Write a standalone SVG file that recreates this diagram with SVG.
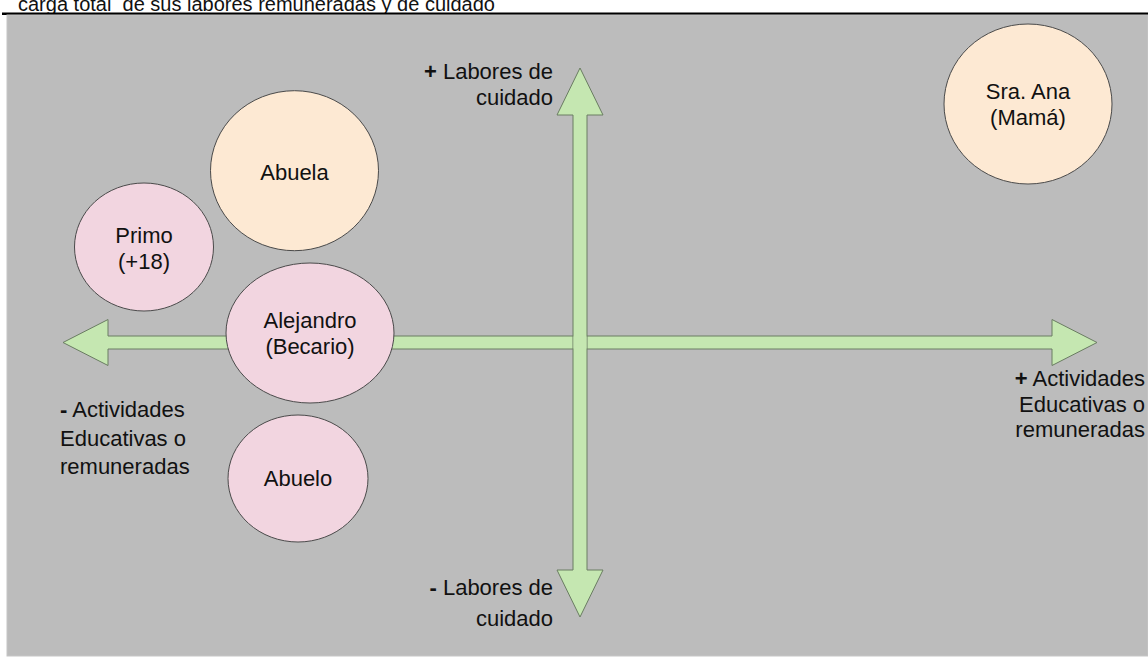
<svg xmlns="http://www.w3.org/2000/svg" width="1148" height="659" viewBox="0 0 1148 659">
  <style>
    text { font-family: "Liberation Sans", Arial, sans-serif; font-size: 22px; fill: #111; }
    .c { text-anchor: middle; }
    .r { text-anchor: end; }
    .peach { fill: #fde9d3; stroke: #4a4a4a; stroke-width: 1; }
    .pink { fill: #f2d5e0; stroke: #4a4a4a; stroke-width: 1; }
    .arrow { fill: #c5e7b1; stroke: #6a7c62; stroke-width: 1; }
    .sym { font-weight: bold; }
  </style>
  <rect x="0" y="0" width="1148" height="659" fill="#ffffff"/>
  <text x="18" y="11" style="font-size:20px">carga total&#160; de sus labores remuneradas y de cuidado</text>
  <line x1="2" y1="13.8" x2="1148" y2="13.8" stroke="#000" stroke-width="2.5"/>
  <rect x="7" y="15" width="1141" height="641" fill="#bcbcbc" stroke="#c6c6c6" stroke-width="1"/>

  <g id="connectors">
    <path class="arrow" d="M63,342.5 L108,319.5 L108,336 L1052,336 L1052,319.5 L1097,342.5 L1052,365.5 L1052,349 L108,349 L108,365.5 Z"/>
    <path class="arrow" d="M580,68 L603,115 L587,115 L587,570 L603,570 L580,617 L557,570 L573,570 L573,115 L557,115 Z"/>
    <rect x="573.5" y="336.5" width="13" height="12" fill="#c5e7b1"/>
  </g>

  <g id="label-top">
    <text class="r" x="553" y="79"><tspan class="sym">+</tspan> Labores de</text>
    <text class="r" x="553" y="105">cuidado</text>
  </g>
  <g id="label-bottom">
    <text class="r" x="553" y="595"><tspan class="sym">-</tspan> Labores de</text>
    <text class="r" x="553" y="626">cuidado</text>
  </g>
  <g id="label-left">
    <text x="60" y="417"><tspan class="sym">-</tspan> Actividades</text>
    <text x="60" y="446">Educativas o</text>
    <text x="60" y="474">remuneradas</text>
  </g>
  <g id="label-right">
    <text class="r" x="1145" y="386"><tspan class="sym">+</tspan> Actividades</text>
    <text class="r" x="1145" y="412">Educativas o</text>
    <text class="r" x="1145" y="437">remuneradas</text>
  </g>

  <g id="node-ana">
    <ellipse class="peach" cx="1028" cy="104" rx="84" ry="80"/>
    <text class="c" x="1028" y="99">Sra. Ana</text>
    <text class="c" x="1028" y="125">(Mamá)</text>
  </g>
  <g id="node-abuela">
    <ellipse class="peach" cx="294.5" cy="170.7" rx="84" ry="80"/>
    <text class="c" x="294.5" y="180">Abuela</text>
  </g>
  <g id="node-primo">
    <ellipse class="pink" cx="144" cy="247" rx="69.5" ry="64"/>
    <text class="c" x="144" y="243">Primo</text>
    <text class="c" x="144" y="269">(+18)</text>
  </g>
  <g id="node-alejandro">
    <ellipse class="pink" cx="310" cy="333" rx="84" ry="70"/>
    <text class="c" x="310" y="328">Alejandro</text>
    <text class="c" x="310" y="354">(Becario)</text>
  </g>
  <g id="node-abuelo">
    <ellipse class="pink" cx="298" cy="478.5" rx="70" ry="63.5"/>
    <text class="c" x="298" y="486">Abuelo</text>
  </g>
</svg>
